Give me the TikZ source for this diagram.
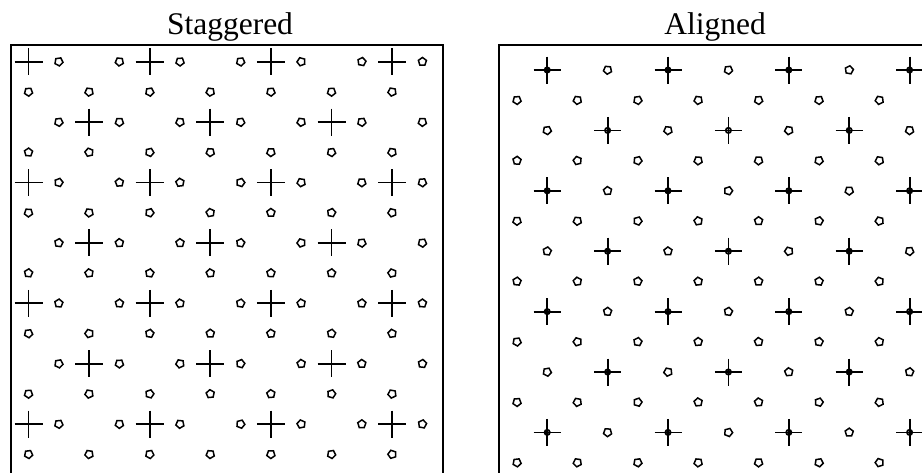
\documentclass[tikz,border=0pt]{standalone}
\usepackage{fontspec}
\setmainfont{Liberation Serif}
\usetikzlibrary{shapes.geometric}

\tikzset{
  frame/.style={line width=2pt},
  title/.style={anchor=base, inner sep=0pt, font=\fontsize{31.5}{36}\selectfont},
  dot/.style={draw, regular polygon, regular polygon sides=5, minimum size=8.5pt,
              inner sep=0pt, line width=1.5pt},
  plusarm/.style={line width=1.8pt},
  hub/.style={line width=1.8pt}
}

% orientation of a small pentagon: up or down depending on the row, with a twist
\newcommand{\dotangle}[2]{%
  \pgfmathsetmacro\twist{45*sin(97*#1+61*#2)}%
  \pgfmathtruncatemacro\isdown{(#2>5)&&(#2<11)}%
  \ifnum\isdown=1 \pgfmathsetmacro\ang{180-\twist}\else\pgfmathsetmacro\ang{\twist}\fi}

\begin{document}
\begin{tikzpicture}[x=1pt, y=-1pt]
  \clip (0,0) rectangle (922,472);
  \fill[white] (0,0) rectangle (922,472);

  % titles
  \node[title] (tstag) at (230,34) {Staggered};
  \node[title] (talign) at (715,34) {Aligned};

  % frames
  \draw[frame] (11,45) rectangle (443,490);
  \draw[frame] (499,45) rectangle (931,490);

  % staggered layout
  \foreach \j in {0,...,13} {
    \foreach \k in {0,...,13} {
      \pgfmathsetmacro\x{28.5+30.3*\k}
      \pgfmathsetmacro\y{61.7+30.2*\j}
      \pgfmathtruncatemacro\pp{mod(\j+\k,2)}
      \pgfmathtruncatemacro\q{mod(\k-\j+16,4)}
      \pgfmathtruncatemacro\ke{mod(\k,2)}
      \ifnum\pp=1
        \dotangle{\k}{\j}
        \node[dot, rotate=\ang] (s-\j-\k) at (\x,\y) {};
      \else
        \ifnum\ke=0 \ifnum\q=0
          \draw[plusarm] (\x-14,\y) -- (\x+14,\y) (\x,\y-13.5) -- (\x,\y+13.5);
        \fi\fi
      \fi
    }
  }

  % aligned layout
  \foreach \j in {0,...,13} {
    \foreach \m in {0,...,13} {
      \pgfmathsetmacro\x{517+30.2*\m}
      \pgfmathsetmacro\y{70+30.2*\j}
      \pgfmathtruncatemacro\pp{mod(\j+\m,2)}
      \pgfmathtruncatemacro\je{mod(\j,2)}
      \pgfmathtruncatemacro\q{mod(\m+15-\j,4)}
      \ifnum\pp=1
        \ifnum\je=0 \ifnum\q=0
          \draw[plusarm] (\x-13.5,\y) -- (\x+13.5,\y) (\x,\y-13.5) -- (\x,\y+13.5);
          \draw[hub] (\x,\y) circle (2.6);
        \else
          \dotangle{\m}{\j}
          \node[dot, rotate=\ang] (a-\j-\m) at (\x,\y) {};
        \fi
        \else
          \dotangle{\m}{\j}
          \node[dot, rotate=\ang] (a-\j-\m) at (\x,\y) {};
        \fi
      \fi
    }
  }
\end{tikzpicture}
\end{document}
